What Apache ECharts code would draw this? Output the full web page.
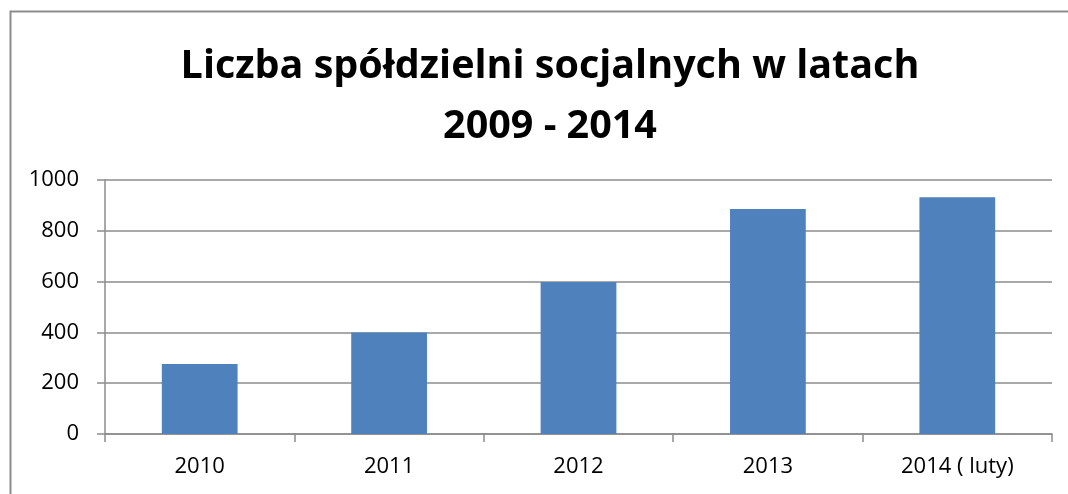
<!DOCTYPE html>
<html>
<head>
<meta charset="utf-8">
<script src="https://cdn.jsdelivr.net/npm/echarts@6/dist/echarts.min.js"></script>
<style>
html, body { margin: 0; padding: 0; background: #fff; }
#chart { width: 1068px; height: 494px; }
</style>
</head>
<body>
<div id="chart"></div>
<script>
var years = ['2010', '2011', '2012', '2013', '2014 ( luty)'];
var counts = [276, 400, 598, 886, 932];
var yTicks = [0, 200, 400, 600, 800, 1000];

var myChart = echarts.init(document.getElementById('chart'));

var option = {
	animation: false,
	backgroundColor: '#fff',
	graphic: [{
		type: 'rect',
		left: 8,
		top: 9,
		shape: { width: 1100, height: 600 },
		style: { fill: 'none', stroke: '#8c8c8c', lineWidth: 2 },
		silent: true
	}],
	title: {
		text: 'Liczba spółdzielni socjalnych w latach\n2009 - 2014',
		left: 545,
		textAlign: 'center',
		top: 32,
		textStyle: {
			fontFamily: 'Open Sans',
			fontWeight: 'bold',
			fontSize: 39.5,
			lineHeight: 60,
			color: '#000'
		}
	},
	grid: { left: 105, right: 16, top: 180, bottom: 60 },
	xAxis: {
		type: 'category',
		data: years,
		axisLine: { lineStyle: { color: '#8c8c8c', width: 1.5 } },
		axisTick: { show: true, length: 8, lineStyle: { color: '#8c8c8c', width: 1.5 } },
		axisLabel: { color: '#000', fontSize: 22, fontFamily: 'Open Sans', margin: 22 }
	},
	yAxis: {
		type: 'value',
		min: yTicks[0],
		max: yTicks[yTicks.length - 1],
		interval: 200,
		axisLine: { show: true, lineStyle: { color: '#8c8c8c', width: 1.5 } },
		axisTick: { show: true, length: 8, lineStyle: { color: '#8c8c8c', width: 1.5 } },
		splitLine: { lineStyle: { color: '#8c8c8c', width: 1.5 } },
		axisLabel: {
			color: '#000', fontSize: 22, fontFamily: 'Open Sans', margin: 26,
			formatter: function (v) { return String(v); }
		}
	},
	series: [{
		type: 'bar',
		data: counts,
		barWidth: '40%',
		itemStyle: { color: '#4f81bd' }
	}]
};

myChart.setOption(option);
</script>
</body>
</html>
